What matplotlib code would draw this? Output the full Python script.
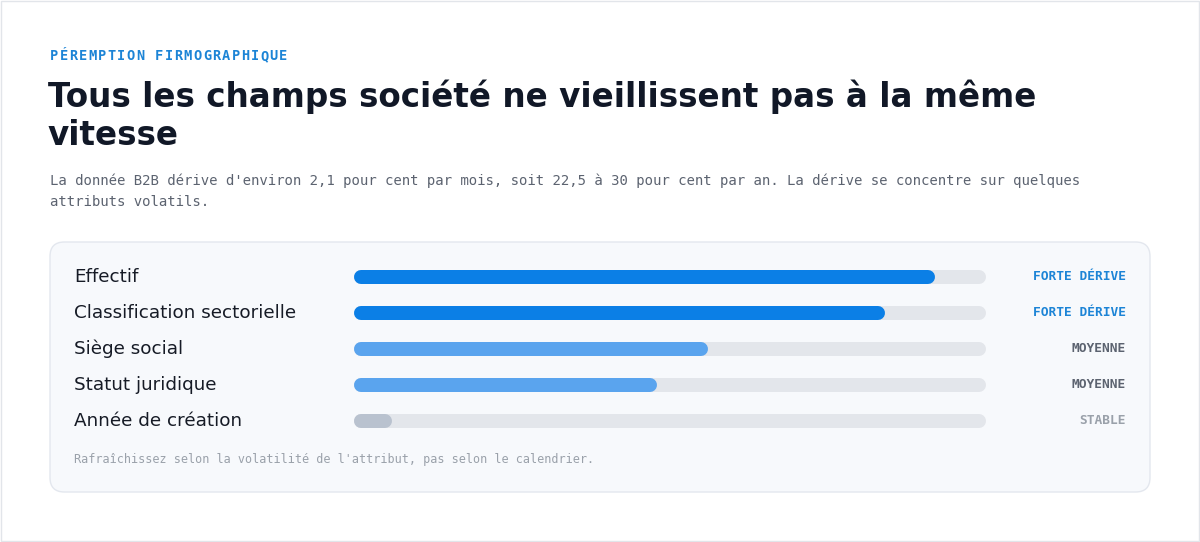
import matplotlib
matplotlib.use("Agg")
import matplotlib.pyplot as plt
from matplotlib.patches import FancyBboxPatch, Rectangle

# ---- data ----
attributes = ["Effectif", "Classification sectorielle", "Siège social", "Statut juridique", "Année de création"]
drift_scores = [92, 84, 56, 48, 6]
drift_levels = ["FORTE DÉRIVE", "FORTE DÉRIVE", "MOYENNE", "MOYENNE", "STABLE"]

eyebrow = "PÉREMPTION FIRMOGRAPHIQUE"
title_lines = ["Tous les champs société ne vieillissent pas à la même", "vitesse"]
subtitle_lines = ["La donnée B2B dérive d'environ 2,1 pour cent par mois, soit 22,5 à 30 pour cent par an. La dérive se concentre sur quelques",
                  "attributs volatils."]
footnote = "Rafraîchissez selon la volatilité de l'attribut, pas selon le calendrier."

# ---- styles ----
level_bar_color = {"FORTE DÉRIVE": "#0b7fe6", "MOYENNE": "#5aa4ee", "STABLE": "#b9c2cf"}
level_text_color = {"FORTE DÉRIVE": "#1c84d6", "MOYENNE": "#5c6370", "STABLE": "#9aa1aa"}
track_color = "#e3e6eb"
MONO = "DejaVu Sans Mono"
SANS = "DejaVu Sans"

W, H = 1200, 542
fig = plt.figure(figsize=(W / 100, H / 100), dpi=100)
fig.patch.set_facecolor("white")

def fx(px):
    return px / W

def fy(py):
    return 1 - py / H

# outer border
fig.patches.append(Rectangle((0.0005, 0.001), 0.999, 0.998, transform=fig.transFigure,
                             fill=False, edgecolor="#e2e5ea", linewidth=1.0, zorder=0))

# card panel
card = FancyBboxPatch((fx(50), fy(492)), fx(1100), (492 - 242) / H,
                      boxstyle="round,pad=0,rounding_size=0.012",
                      transform=fig.transFigure, facecolor="#f7f9fc",
                      edgecolor="#e3e7ee", linewidth=1.0, mutation_aspect=W / H, zorder=0)
fig.patches.append(card)

# header texts (eyebrow with letter spacing)
for k, ch in enumerate(eyebrow):
    fig.text(fx(50 + k * 9.55), fy(56), ch, family=MONO, weight="bold", fontsize=9.8,
             color="#1c84d6", va="center", ha="left")
fig.text(fx(48), fy(97), title_lines[0], family=SANS, weight="bold", fontsize=23.5,
         color="#111827", va="center", ha="left")
fig.text(fx(48), fy(136), title_lines[1], family=SANS, weight="bold", fontsize=23.5,
         color="#111827", va="center", ha="left")
fig.text(fx(50), fy(181), subtitle_lines[0], family=MONO, fontsize=10.05,
         color="#5c6370", va="center", ha="left")
fig.text(fx(50), fy(202), subtitle_lines[1], family=MONO, fontsize=10.05,
         color="#5c6370", va="center", ha="left")

# bar axes
x0, x1 = 354, 986
row0, pitch = 277, 36
n = len(attributes)
top = row0 - pitch / 2
bottom = top + n * pitch
ax = fig.add_axes([fx(x0), fy(bottom), (x1 - x0) / W, (bottom - top) / H])
ax.set_zorder(5)
ax.set_xlim(0, 100)
ax.set_ylim(n - 0.5, -0.5)
ax.axis("off")
ax.patch.set_alpha(0)

bar_px = 14
lw = bar_px * 72 / 100
inset = (bar_px / 2) / (x1 - x0) * 100

for i, (name, val, lvl) in enumerate(zip(attributes, drift_scores, drift_levels)):
    ax.plot([inset, 100 - inset], [i, i], color=track_color, lw=lw,
            solid_capstyle="round", zorder=1)
    ax.plot([inset, max(val - inset, inset)], [i, i], color=level_bar_color[lvl], lw=lw,
            solid_capstyle="round", zorder=2)
    y = row0 + i * pitch
    fig.text(fx(74), fy(y), name, family=SANS, fontsize=13.2, color="#161b26",
             va="center", ha="left")
    fig.text(fx(1126), fy(y), lvl, family=MONO, weight="bold", fontsize=9.3,
             color=level_text_color[lvl], va="center", ha="right")

fig.text(fx(74), fy(460), footnote, family=MONO, fontsize=8.5,
         color="#9aa1aa", va="center", ha="left")

fig.savefig("out.png", dpi=100, facecolor="white")
